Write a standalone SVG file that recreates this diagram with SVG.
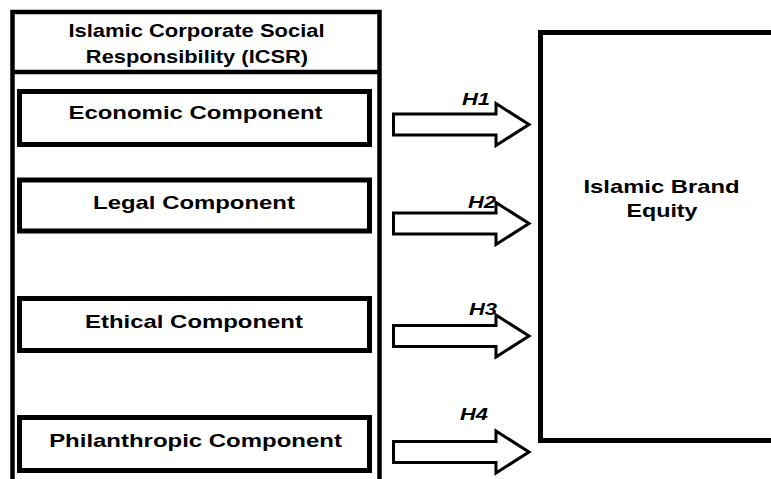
<svg xmlns="http://www.w3.org/2000/svg" xmlns:xlink="http://www.w3.org/1999/xlink" width="771" height="479" viewBox="0 0 771 479">
<style>
.box{fill:#fff;stroke:#000;stroke-width:5}
.outer{fill:#fff;stroke:#000;stroke-width:4.5}
.t{font-family:"Liberation Sans",Arial,sans-serif;font-weight:bold;font-size:17.5px;fill:#000;text-anchor:middle}
.h{font-family:"Liberation Sans",Arial,sans-serif;font-weight:bold;font-style:italic;font-size:16.5px;fill:#000}
.arr{fill:#fff;stroke:#000;stroke-width:3;stroke-linejoin:miter}
</style>
<defs>
<path id="arrow" class="arr" d="M -135.5 -10.5 H -33 V -21 L 0 0 L -33 21 V 10.5 H -135.5 Z"/>
</defs>
<rect width="771" height="479" fill="#fff"/>
<g id="icsr">
<rect class="outer" x="12.5" y="12" width="367" height="520"/>
<line x1="12.5" y1="72" x2="379.5" y2="72" stroke="#000" stroke-width="4.5"/>
<text class="t" transform="translate(196.5,37) scale(1.255,1)">Islamic Corporate Social</text>
<text class="t" transform="translate(197,62.5) scale(1.25,1)">Responsibility (ICSR)</text>
</g>
<g id="economic">
<rect class="box" x="19.5" y="91.5" width="350" height="53"/>
<text class="t" transform="translate(195.5,118.5) scale(1.37,1)">Economic Component</text>
</g>
<g id="legal">
<rect class="box" x="19.5" y="180" width="350" height="51"/>
<text class="t" transform="translate(194,209) scale(1.367,1)">Legal Component</text>
</g>
<g id="ethical">
<rect class="box" x="19.5" y="298.5" width="350" height="52"/>
<text class="t" transform="translate(194,328) scale(1.367,1)">Ethical Component</text>
</g>
<g id="philanthropic">
<rect class="box" x="19.5" y="417.5" width="350" height="53"/>
<text class="t" transform="translate(195.5,447) scale(1.37,1)">Philanthropic Component</text>
</g>
<g id="brand-equity">
<rect class="box" x="540.5" y="32.5" width="260" height="408"/>
<text class="t" transform="translate(661.5,193) scale(1.36,1)">Islamic Brand</text>
<text class="t" transform="translate(662,217) scale(1.33,1)">Equity</text>
</g>
<g id="connectors">
<use xlink:href="#arrow" transform="translate(529,124.5)"/>
<use xlink:href="#arrow" transform="translate(529,223.5)"/>
<use xlink:href="#arrow" transform="translate(529,336)"/>
<use xlink:href="#arrow" transform="translate(529,452)"/>
<text class="h" transform="translate(462,105) scale(1.33,1)">H1</text>
<text class="h" transform="translate(468,208) scale(1.33,1)">H2</text>
<text class="h" transform="translate(469,315) scale(1.33,1)">H3</text>
<text class="h" transform="translate(460,420) scale(1.33,1)">H4</text>
</g>
</svg>
